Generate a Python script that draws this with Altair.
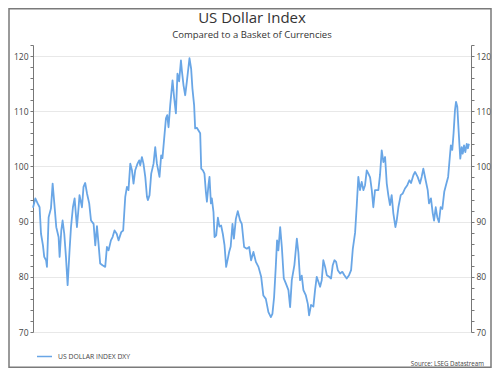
import altair as alt
import pandas as pd

# ---- data (decimal year, index value) ----
dxy_1990s = [
    (1990.00, 92.5), (1990.18, 94.2), (1990.36, 93.3), (1990.51, 92.6), (1990.62, 87.8),
    (1990.77, 85.7), (1990.87, 83.6), (1991.01, 83.0), (1991.08, 81.8), (1991.21, 90.8),
    (1991.39, 92.4), (1991.52, 96.9), (1991.65, 93.3), (1991.80, 89.0), (1991.98, 87.2),
    (1992.06, 83.6), (1992.19, 88.4), (1992.29, 90.2), (1992.42, 87.8), (1992.55, 83.6),
    (1992.68, 78.5), (1992.83, 84.8), (1992.94, 89.0), (1993.09, 92.6), (1993.22, 94.2),
    (1993.40, 89.0), (1993.53, 92.6), (1993.60, 94.8), (1993.79, 92.6), (1993.91, 96.3),
    (1994.04, 97.0), (1994.18, 95.1), (1994.35, 93.3), (1994.49, 90.2), (1994.69, 89.6),
    (1994.82, 85.7), (1994.95, 89.2), (1995.07, 86.0), (1995.20, 82.4), (1995.38, 82.1),
    (1995.59, 81.8), (1995.72, 85.4), (1995.85, 84.8), (1996.03, 86.6), (1996.16, 87.2),
    (1996.31, 88.4), (1996.48, 87.8), (1996.62, 86.6), (1996.83, 88.1), (1996.98, 88.4),
    (1997.14, 94.5), (1997.27, 96.3), (1997.39, 95.7), (1997.53, 100.5), (1997.66, 99.3),
    (1997.78, 96.9), (1997.91, 99.3), (1998.09, 100.5), (1998.22, 101.1), (1998.30, 100.2),
    (1998.43, 101.7), (1998.55, 100.5), (1998.69, 98.1), (1998.82, 94.5), (1998.89, 93.9),
    (1999.02, 94.8), (1999.15, 98.7), (1999.33, 100.5), (1999.46, 103.5), (1999.59, 100.5),
    (1999.79, 98.1), (1999.92, 102.0),
]
dxy_2000s = [
    (2000.02, 101.5), (2000.15, 105.0), (2000.29, 108.7), (2000.39, 109.3), (2000.49, 107.1),
    (2000.62, 111.1), (2000.80, 115.6), (2000.93, 112.3), (2001.06, 109.6), (2001.18, 116.8),
    (2001.31, 115.4), (2001.45, 119.2), (2001.52, 117.4), (2001.65, 114.7), (2001.78, 112.9),
    (2001.91, 115.4), (2002.11, 119.6), (2002.24, 117.7), (2002.34, 114.1), (2002.47, 111.1),
    (2002.55, 106.9), (2002.68, 107.0), (2002.81, 106.5), (2002.94, 106.0), (2003.02, 99.6),
    (2003.15, 99.3), (2003.27, 98.7), (2003.38, 95.4), (2003.46, 93.6), (2003.58, 96.6),
    (2003.66, 98.1), (2003.77, 93.3), (2003.84, 94.2), (2003.97, 91.7), (2004.05, 87.2),
    (2004.18, 87.5), (2004.31, 90.7), (2004.43, 89.1), (2004.56, 89.3), (2004.69, 87.8),
    (2004.82, 85.8), (2004.95, 81.8), (2005.08, 83.3), (2005.18, 84.5), (2005.30, 85.5),
    (2005.44, 89.6), (2005.55, 86.9), (2005.70, 90.5), (2005.85, 91.9), (2006.03, 90.2),
    (2006.16, 89.6), (2006.34, 85.4), (2006.55, 85.1), (2006.73, 85.4), (2006.88, 83.0),
    (2007.06, 84.5), (2007.25, 82.7), (2007.45, 81.8), (2007.66, 80.0), (2007.83, 76.6),
    (2008.02, 76.0), (2008.22, 73.6), (2008.41, 72.7), (2008.53, 73.3), (2008.66, 76.3),
    (2008.79, 81.8), (2008.89, 86.6), (2008.99, 84.8), (2009.13, 89.0), (2009.26, 85.4),
    (2009.41, 79.7), (2009.57, 78.8), (2009.77, 77.6), (2009.90, 74.5),
]
dxy_2010s = [
    (2010.03, 79.4), (2010.23, 82.1), (2010.42, 86.9), (2010.54, 84.4), (2010.67, 79.4),
    (2010.80, 80.2), (2010.93, 77.6), (2011.11, 76.7), (2011.27, 75.1), (2011.37, 73.0),
    (2011.52, 74.9), (2011.70, 74.6), (2011.83, 77.6), (2011.96, 80.0), (2012.09, 79.1),
    (2012.22, 78.2), (2012.35, 79.4), (2012.47, 83.0), (2012.61, 81.8), (2012.74, 80.3),
    (2012.92, 80.0), (2013.07, 79.7), (2013.20, 82.1), (2013.33, 83.0), (2013.46, 82.7),
    (2013.59, 81.2), (2013.77, 80.6), (2013.94, 80.9), (2014.10, 80.3), (2014.28, 79.7),
    (2014.46, 80.3), (2014.62, 81.2), (2014.75, 85.0), (2014.93, 88.0), (2015.06, 93.0),
    (2015.18, 98.1), (2015.31, 95.7), (2015.44, 97.2), (2015.57, 95.7), (2015.70, 96.6),
    (2015.83, 99.3), (2015.96, 98.7), (2016.09, 98.0), (2016.22, 95.7), (2016.34, 92.6),
    (2016.47, 95.7), (2016.73, 95.7), (2016.86, 98.5), (2016.99, 102.9), (2017.12, 100.8),
    (2017.25, 101.7), (2017.38, 96.9), (2017.50, 94.8), (2017.63, 93.0), (2017.76, 94.8),
    (2017.89, 91.5), (2018.05, 89.0), (2018.15, 90.2), (2018.28, 92.6), (2018.46, 94.8),
    (2018.62, 95.1), (2018.79, 96.0), (2018.97, 96.6), (2019.13, 97.5), (2019.26, 97.0),
    (2019.44, 98.4), (2019.57, 99.0), (2019.77, 98.1), (2019.95, 96.9),
]
dxy_2020s = [
    (2020.08, 98.1), (2020.21, 99.6), (2020.39, 97.5), (2020.55, 95.7), (2020.65, 93.3),
    (2020.80, 94.2), (2020.94, 91.5), (2021.04, 90.2), (2021.17, 92.6), (2021.29, 90.8),
    (2021.42, 89.9), (2021.55, 92.6), (2021.68, 92.3), (2021.83, 95.4), (2021.96, 96.6),
    (2022.13, 98.1), (2022.26, 101.7), (2022.34, 103.8), (2022.45, 103.0), (2022.55, 106.0),
    (2022.66, 110.2), (2022.74, 111.7), (2022.84, 110.8), (2022.92, 107.4), (2023.00, 104.1),
    (2023.07, 101.4), (2023.18, 103.5), (2023.26, 102.3), (2023.36, 103.8), (2023.46, 102.6),
    (2023.57, 104.1), (2023.66, 103.3), (2023.74, 104.1),
]

title_text = "US Dollar Index"
subtitle_text = "Compared to a Basket of Currencies"
series_name = "US DOLLAR INDEX DXY"
source_text = "Source: LSEG Datastream"

y_tick_values = list(range(70, 123, 2))
x_tick_values = list(range(1990, 2024))
x_domain = [1990, 2023.9]
y_domain = [70, 122]

pts = dxy_1990s + dxy_2000s + dxy_2010s + dxy_2020s
df = pd.DataFrame(pts, columns=["year", "value"])
df["series"] = series_name

W, H = 438, 287
PAD = {"left": 25, "top": 37, "right": 21, "bottom": 36}
FONT = "Open Sans"
LINE_COLOR = "#69a6e6"

xscale = alt.Scale(domain=x_domain, nice=False, zero=False)
yscale = alt.Scale(domain=y_domain, nice=False, zero=False)

maj10 = "datum.value % 10 === 0"
maj5 = "datum.value % 5 === 0"


def y_axis(orient):
    return alt.Axis(
        orient=orient, values=y_tick_values, title=None,
        labelExpr=f"{maj10} ? datum.value : ''", labelOverlap=False,
        grid=(orient == "left"),
        gridOpacity={"condition": {"test": maj10, "value": 1}, "value": 0},
        gridColor="#e8e8e8", tickSize=3, tickColor="#777", domainColor="#777",
        labelFont=FONT, labelFontSize=8.5, labelColor="#444", labelPadding=2,
    )


x_axis = alt.Axis(
    values=x_tick_values, title=None,
    labelExpr=f"{maj5} ? datum.value : ''", labelOverlap=False,
    grid=True,
    gridOpacity={"condition": {"test": maj5, "value": 1}, "value": 0},
    gridColor="#e8e8e8", tickSize=3, tickColor="#777", domainColor="#777",
    labelFont=FONT, labelFontSize=8.5, labelColor="#444", labelPadding=3,
)

line = alt.Chart(df).mark_line(strokeWidth=1.8, strokeJoin="round").encode(
    x=alt.X("year:Q", scale=xscale, axis=x_axis),
    y=alt.Y("value:Q", scale=yscale, axis=y_axis("left")),
    color=alt.Color(
        "series:N", scale=alt.Scale(range=[LINE_COLOR]),
        legend=alt.Legend(
            title=None, orient="none", legendX=3, legendY=303,
            symbolType="stroke", symbolSize=225, symbolStrokeWidth=1.5,
            labelFont=FONT, labelFontSize=6.8, labelColor="#444",
            labelOffset=5, padding=0,
        ),
    ),
)

right_axis = alt.Chart(df).mark_line(strokeOpacity=0).encode(
    x=alt.X("year:Q", scale=xscale, axis=None),
    y=alt.Y("value:Q", scale=yscale, axis=y_axis("right")),
)

one = pd.DataFrame({"t": [title_text], "s": [subtitle_text], "src": [source_text]})

title = alt.Chart(one).mark_text(
    font=FONT, fontSize=15, color="#333", align="center", baseline="alphabetic"
).encode(x=alt.value(W / 2), y=alt.value(-22.5), text="t:N")

subtitle = alt.Chart(one).mark_text(
    font=FONT, fontSize=9.5, color="#333", align="center", baseline="alphabetic"
).encode(x=alt.value(W / 2), y=alt.value(-7.5), text="s:N")

source = alt.Chart(one).mark_text(
    font=FONT, fontSize=6.2, color="#444", align="right", baseline="alphabetic"
).encode(x=alt.value(451), y=alt.value(321), text="src:N")

frame = alt.Chart(one).mark_rect(
    fillOpacity=0, stroke="#7a7a7a", strokeWidth=1.5
).encode(
    x=alt.value(-24), x2=alt.value(458), y=alt.value(-36.2), y2=alt.value(322.2)
)

chart = (
    alt.layer(line, right_axis, title, subtitle, source, frame)
    .resolve_axis(y="independent")
    .properties(
        width=W, height=H, padding=PAD,
        autosize=alt.AutoSizeParams(type="none"),
        background="white",
    )
    .configure_view(stroke=None)
)

chart.save("out.html", embed_options={"renderer": "svg", "actions": False})
